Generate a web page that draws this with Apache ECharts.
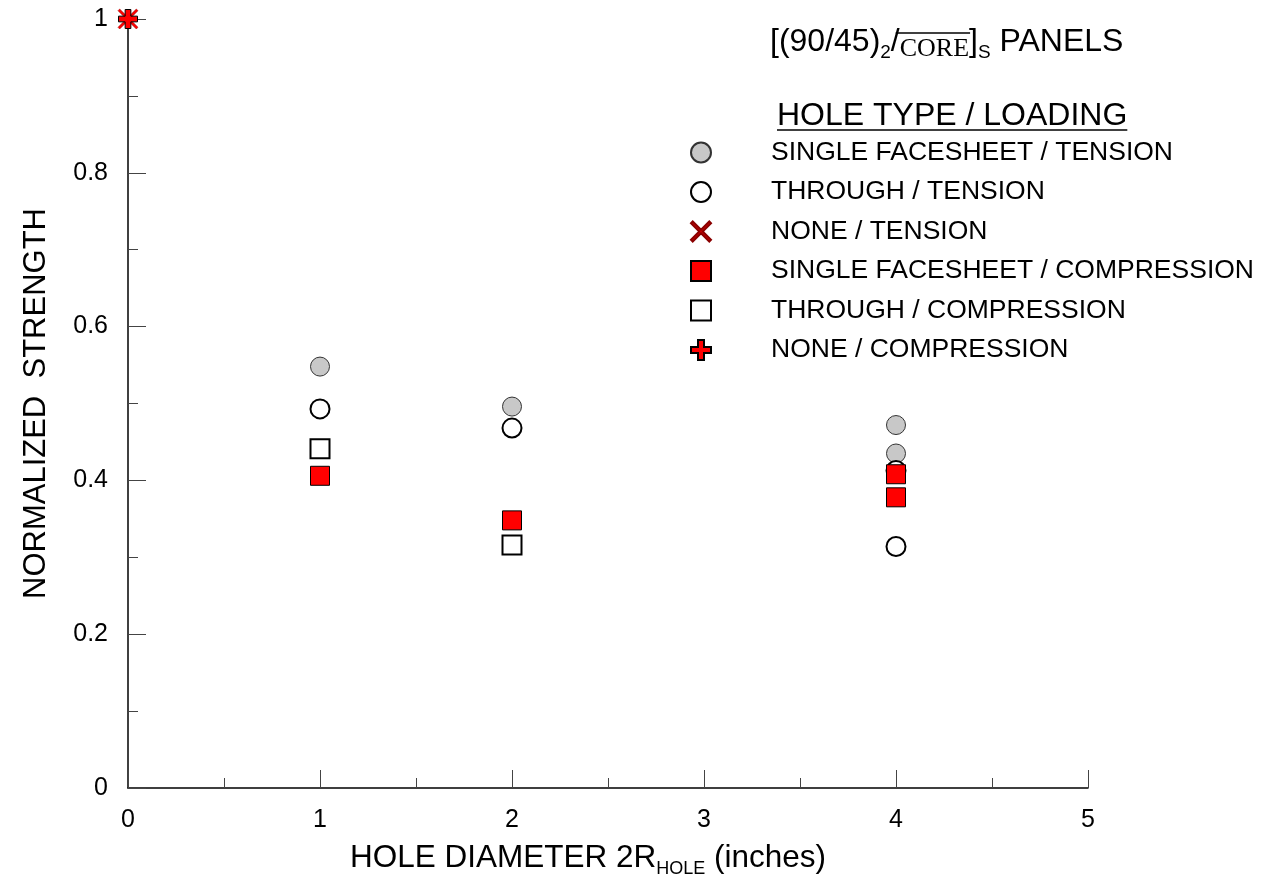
<!DOCTYPE html>
<html>
<head>
<meta charset="utf-8">
<script src="https://cdn.jsdelivr.net/npm/echarts@6/dist/echarts.min.js"></script>
<style>
  html, body { margin: 0; padding: 0; background: #fff; }
  #chart { width: 1261px; height: 874px; }
</style>
</head>
<body>
<div id="chart"></div>
<script>
const SANS = '"Liberation Sans", Arial, Helvetica, sans-serif';
const SERIF = '"Liberation Serif", "Times New Roman", serif';

// Hole diameter (inches) and normalized strength for each hole type / loading
const seriesNames = [
  'SINGLE FACESHEET / TENSION',
  'THROUGH / TENSION',
  'NONE / TENSION',
  'SINGLE FACESHEET / COMPRESSION',
  'THROUGH / COMPRESSION',
  'NONE / COMPRESSION'
];
const sfTensionX = [1, 2, 4, 4];
const sfTensionY = [0.548, 0.496, 0.472, 0.435];
const thruTensionX = [1, 2, 4, 4];
const thruTensionY = [0.493, 0.468, 0.413, 0.314];
const noneTensionX = [0];
const noneTensionY = [1.0];
const sfCompX = [1, 2, 4, 4];
const sfCompY = [0.406, 0.348, 0.408, 0.378];
const thruCompX = [1, 2];
const thruCompY = [0.441, 0.316];
const noneCompX = [0];
const noneCompY = [1.0];

// Axis ranges and tick steps
const xRange = [0, 5];
const xStep = 1;
const yRange = [0, 1];
const yStep = 0.2;

const pairs = (xs, ys) => xs.map((x, i) => [x, ys[i]]);

const CROSS_X = 'path://M0,1.7L1.7,0L10,8.3L18.3,0L20,1.7L11.7,10L20,18.3L18.3,20L10,11.7L1.7,20L0,18.3L8.3,10Z';
const PLUS = 'path://M7,0L13,0L13,7L20,7L20,13L13,13L13,20L7,20L7,13L0,13L0,7L7,7Z';

const markerStyles = [
  { symbol: 'circle', size: 19, itemStyle: { color: '#c8c8c8', borderColor: '#333', borderWidth: 1, opacity: 1 } },
  { symbol: 'circle', size: 19, itemStyle: { color: '#ffffff', borderColor: '#000', borderWidth: 2, opacity: 1 } },
  { symbol: CROSS_X, size: 20, itemStyle: { color: '#ff0000', borderColor: '#8a0000', borderWidth: 0.5, opacity: 1 } },
  { symbol: 'rect', size: 19, itemStyle: { color: '#ff0000', borderColor: '#000', borderWidth: 1, opacity: 1 } },
  { symbol: 'rect', size: 19, itemStyle: { color: '#ffffff', borderColor: '#000', borderWidth: 2, opacity: 1 } },
  { symbol: PLUS, size: 19, itemStyle: { color: '#ff0000', borderColor: '#000', borderWidth: 1, opacity: 1 } }
];
const seriesData = [
  pairs(sfTensionX, sfTensionY),
  pairs(thruTensionX, thruTensionY),
  pairs(noneTensionX, noneTensionY),
  pairs(sfCompX, sfCompY),
  pairs(thruCompX, thruCompY),
  pairs(noneCompX, noneCompY)
];

// text measurement for the title overline and header underline
const measureCtx = document.createElement('canvas').getContext('2d');
function textWidth(str, size, family) {
  measureCtx.font = size + 'px ' + family;
  return measureCtx.measureText(str).width;
}

// Title: [(90/45)2/CORE]S PANELS with overlined CORE
const TITLE_X = 770, TITLE_Y = 26;
const MAIN = 32, SUB = 19, CORE_SIZE = 26;
const preW = textWidth('[(90/45)', MAIN, SANS) + textWidth('2', SUB, SANS);
const slashW = textWidth('/', MAIN, SANS);
const overStart = TITLE_X + preW + slashW * 0.55;
const overEnd = TITLE_X + preW + slashW + textWidth('CORE', CORE_SIZE, SERIF) + 1;

const HEADER = 'HOLE TYPE / LOADING';
const HEADER_SIZE = 32;
const HEADER_X = 777, HEADER_Y = 100;
const headerW = textWidth(HEADER, HEADER_SIZE, SANS);

const chart = echarts.init(document.getElementById('chart'), null, { renderer: 'canvas' });

chart.setOption({
  backgroundColor: '#ffffff',
  animation: false,
  grid: { left: 128, right: 173, top: 19, bottom: 86, containLabel: false, outerBoundsMode: 'none' },
  xAxis: {
    type: 'value',
    min: xRange[0], max: xRange[1], interval: xStep,
    axisLine: { show: true, onZero: false, lineStyle: { color: '#000', width: 1.5 } },
    axisTick: { show: true, inside: true, length: 18, lineStyle: { color: '#444', width: 1 } },
    minorTick: { show: true, splitNumber: 2, length: 10, lineStyle: { color: '#444', width: 1 } },
    splitLine: { show: false },
    axisLabel: { fontSize: 25, fontFamily: SANS, color: '#000', margin: 20 },
    name: 'HOLE DIAMETER 2R{sub|HOLE} (inches)',
    nameLocation: 'middle',
    nameGap: 48,
    nameTextStyle: {
      fontSize: 31.5, fontFamily: SANS, color: '#000', lineHeight: 40,
      padding: [0, 40, 0, 0],
      rich: { sub: { fontSize: 18, fontFamily: SANS, color: '#000', lineHeight: 20, verticalAlign: 'bottom' } }
    }
  },
  yAxis: {
    type: 'value',
    min: yRange[0], max: yRange[1], interval: yStep,
    axisLine: { show: true, onZero: false, lineStyle: { color: '#000', width: 1.5 } },
    axisTick: { show: true, inside: true, length: 18, lineStyle: { color: '#444', width: 1 } },
    minorTick: { show: true, splitNumber: 2, length: 10, lineStyle: { color: '#444', width: 1 } },
    splitLine: { show: false },
    axisLabel: { fontSize: 25, fontFamily: SANS, color: '#000', margin: 20 },
    name: 'NORMALIZED  STRENGTH',
    nameLocation: 'middle',
    nameGap: 76,
    nameTextStyle: { fontSize: 31, fontFamily: SANS, color: '#000' }
  },
  legend: {
    show: true,
    orient: 'vertical',
    left: 690,
    top: 139,
    padding: 0,
    itemWidth: 20,
    itemHeight: 20,
    itemGap: 12.5,
    selectedMode: false,
    data: seriesNames,
    textStyle: { fontSize: 26.5, fontFamily: SANS, color: '#000', padding: [0, 0, 0, 55] }
  },
  graphic: [
    {
      type: 'text', left: TITLE_X, top: TITLE_Y, z: 10,
      style: {
        text: '{m|[(90/45)}{s|2}{m|/}{c|CORE}{m|]}{s|S}{m| PANELS}',
        rich: {
          m: { fontSize: MAIN, fontFamily: SANS, fill: '#000', lineHeight: 40, verticalAlign: 'middle' },
          s: { fontSize: SUB, fontFamily: SANS, fill: '#000', lineHeight: 18, verticalAlign: 'bottom' },
          c: { fontSize: CORE_SIZE, fontFamily: SERIF, fill: '#000', lineHeight: 36, verticalAlign: 'bottom' }
        }
      }
    },
    {
      type: 'line', z: 10,
      shape: { x1: overStart, y1: TITLE_Y + 7, x2: overEnd, y2: TITLE_Y + 7 },
      style: { stroke: '#000', lineWidth: 1.3 }
    },
    {
      type: 'text', left: HEADER_X, top: HEADER_Y, z: 10,
      style: { text: HEADER, fontSize: HEADER_SIZE, fontFamily: SANS, fill: '#000' }
    },
    {
      type: 'line', z: 10,
      shape: { x1: HEADER_X, y1: HEADER_Y + 30, x2: HEADER_X + headerW, y2: HEADER_Y + 30 },
      style: { stroke: '#000', lineWidth: 1.5 }
    }
  ],
  series: seriesNames.map((name, i) => ({
    name: name,
    type: 'scatter',
    clip: false,
    symbol: markerStyles[i].symbol,
    symbolSize: markerStyles[i].size,
    itemStyle: markerStyles[i].itemStyle,
    z: 2 + i,
    data: seriesData[i]
  }))
});
</script>
</body>
</html>
